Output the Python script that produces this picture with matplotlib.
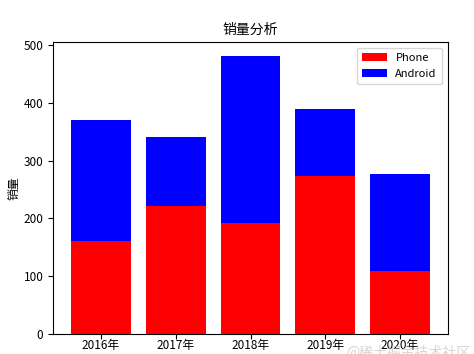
import numpy as np
import matplotlib.pyplot as plt

plt.rcParams['font.family'] = ['Noto Sans CJK SC', 'DejaVu Sans']
plt.rcParams['axes.unicode_minus'] = False

years = ['2016年', '2017年', '2018年', '2019年', '2020年']
phone = [160, 222, 192, 274, 108]
android = [211, 119, 289, 115, 169]

fig = plt.figure(figsize=(4.74, 3.54), dpi=100)
ax = fig.add_subplot(111)
fig.subplots_adjust(left=0.112, right=0.945, bottom=0.057, top=0.881)

x = np.arange(len(years))
ax.bar(x, phone, width=0.8, color='red', label='Phone')
ax.bar(x, android, width=0.8, bottom=phone, color='blue', label='Android')

ax.set_xticks(x)
ax.set_xticklabels(years)
ax.set_yticks([0, 100, 200, 300, 400, 500])
ax.tick_params(labelsize=8.5)
ax.tick_params(axis='x', pad=0)
ax.set_ylabel('销量', fontsize=8.5, labelpad=2)
ax.set_title('销量分析', fontsize=10)
ax.legend(loc='upper right', fontsize=8, handlelength=2.2, borderpad=0.5)

fig.text(0.73, 0.005, '@稀土掘金技术社区', fontsize=10, color='#bbbbbb', alpha=0.6, va='center')

fig.savefig('out.png', dpi=100)
